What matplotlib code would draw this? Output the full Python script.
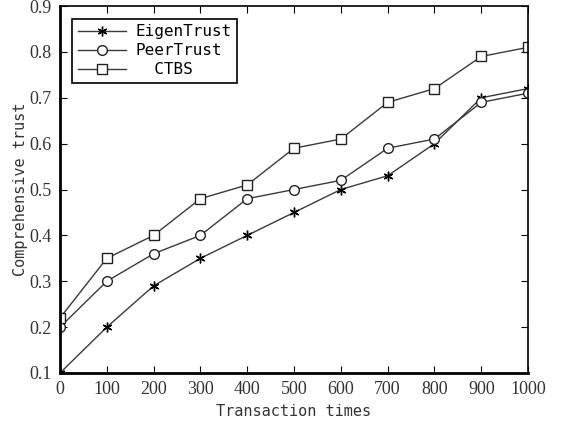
import matplotlib
matplotlib.use('Agg')
import matplotlib.pyplot as plt

x = [0, 100, 200, 300, 400, 500, 600, 700, 800, 900, 1000]
eigen = [0.10, 0.20, 0.29, 0.35, 0.40, 0.45, 0.50, 0.53, 0.60, 0.70, 0.72]
peer = [0.20, 0.30, 0.36, 0.40, 0.48, 0.50, 0.52, 0.59, 0.61, 0.69, 0.71]
ctbs = [0.22, 0.35, 0.40, 0.48, 0.51, 0.59, 0.61, 0.69, 0.72, 0.79, 0.81]
xticks = [0, 100, 200, 300, 400, 500, 600, 700, 800, 900, 1000]
yticks = [0.1, 0.2, 0.3, 0.4, 0.5, 0.6, 0.7, 0.8, 0.9]

fig = plt.figure(figsize=(5.63, 4.30), dpi=100)
ax = fig.add_axes([0.1066, 0.1326, 0.8314, 0.8534])

lc = '#3a3a3a'
ax.plot(x, eigen, color=lc, lw=1.0, marker=(6, 2, 0), ms=7, mec='black', label='EigenTrust')
ax.plot(x, peer, color=lc, lw=1.0, marker='o', ms=7, mfc='white', mec='#222222', label='PeerTrust')
ax.plot(x, ctbs, color=lc, lw=1.0, marker='s', ms=7, mfc='white', mec='#222222', label='  CTBS')

ax.set_xlim(0, 1000)
ax.set_ylim(0.1, 0.9)
ax.set_xticks(xticks)
ax.set_yticks(yticks)
ax.set_xticklabels([str(v) for v in xticks], family='Liberation Serif', fontsize=13, color='#333333')
ax.set_yticklabels([f'{v:.1f}' for v in yticks], family='Liberation Serif', fontsize=13, color='#333333')
ax.tick_params(direction='in', top=True, right=True, length=5, pad=6)
for s in ax.spines.values():
    s.set_linewidth(1.2)
ax.spines['left'].set_linewidth(2)
ax.spines['bottom'].set_linewidth(2)

ax.set_xlabel('Transaction times', family='DejaVu Sans Mono', fontsize=11, color='#333333', labelpad=4)
ax.set_ylabel('Comprehensive trust', family='DejaVu Sans Mono', fontsize=11, color='#333333', labelpad=1)

leg = ax.legend(loc='upper left', bbox_to_anchor=(0.026, 0.965), borderaxespad=0, fancybox=False,
                edgecolor='black', prop={'family': 'DejaVu Sans Mono', 'size': 11.5}, handlelength=3,
                handletextpad=0.6, borderpad=0.35, labelspacing=0.25, framealpha=1)
leg.get_frame().set_linewidth(1.2)

fig.savefig('out.png', dpi=100)
